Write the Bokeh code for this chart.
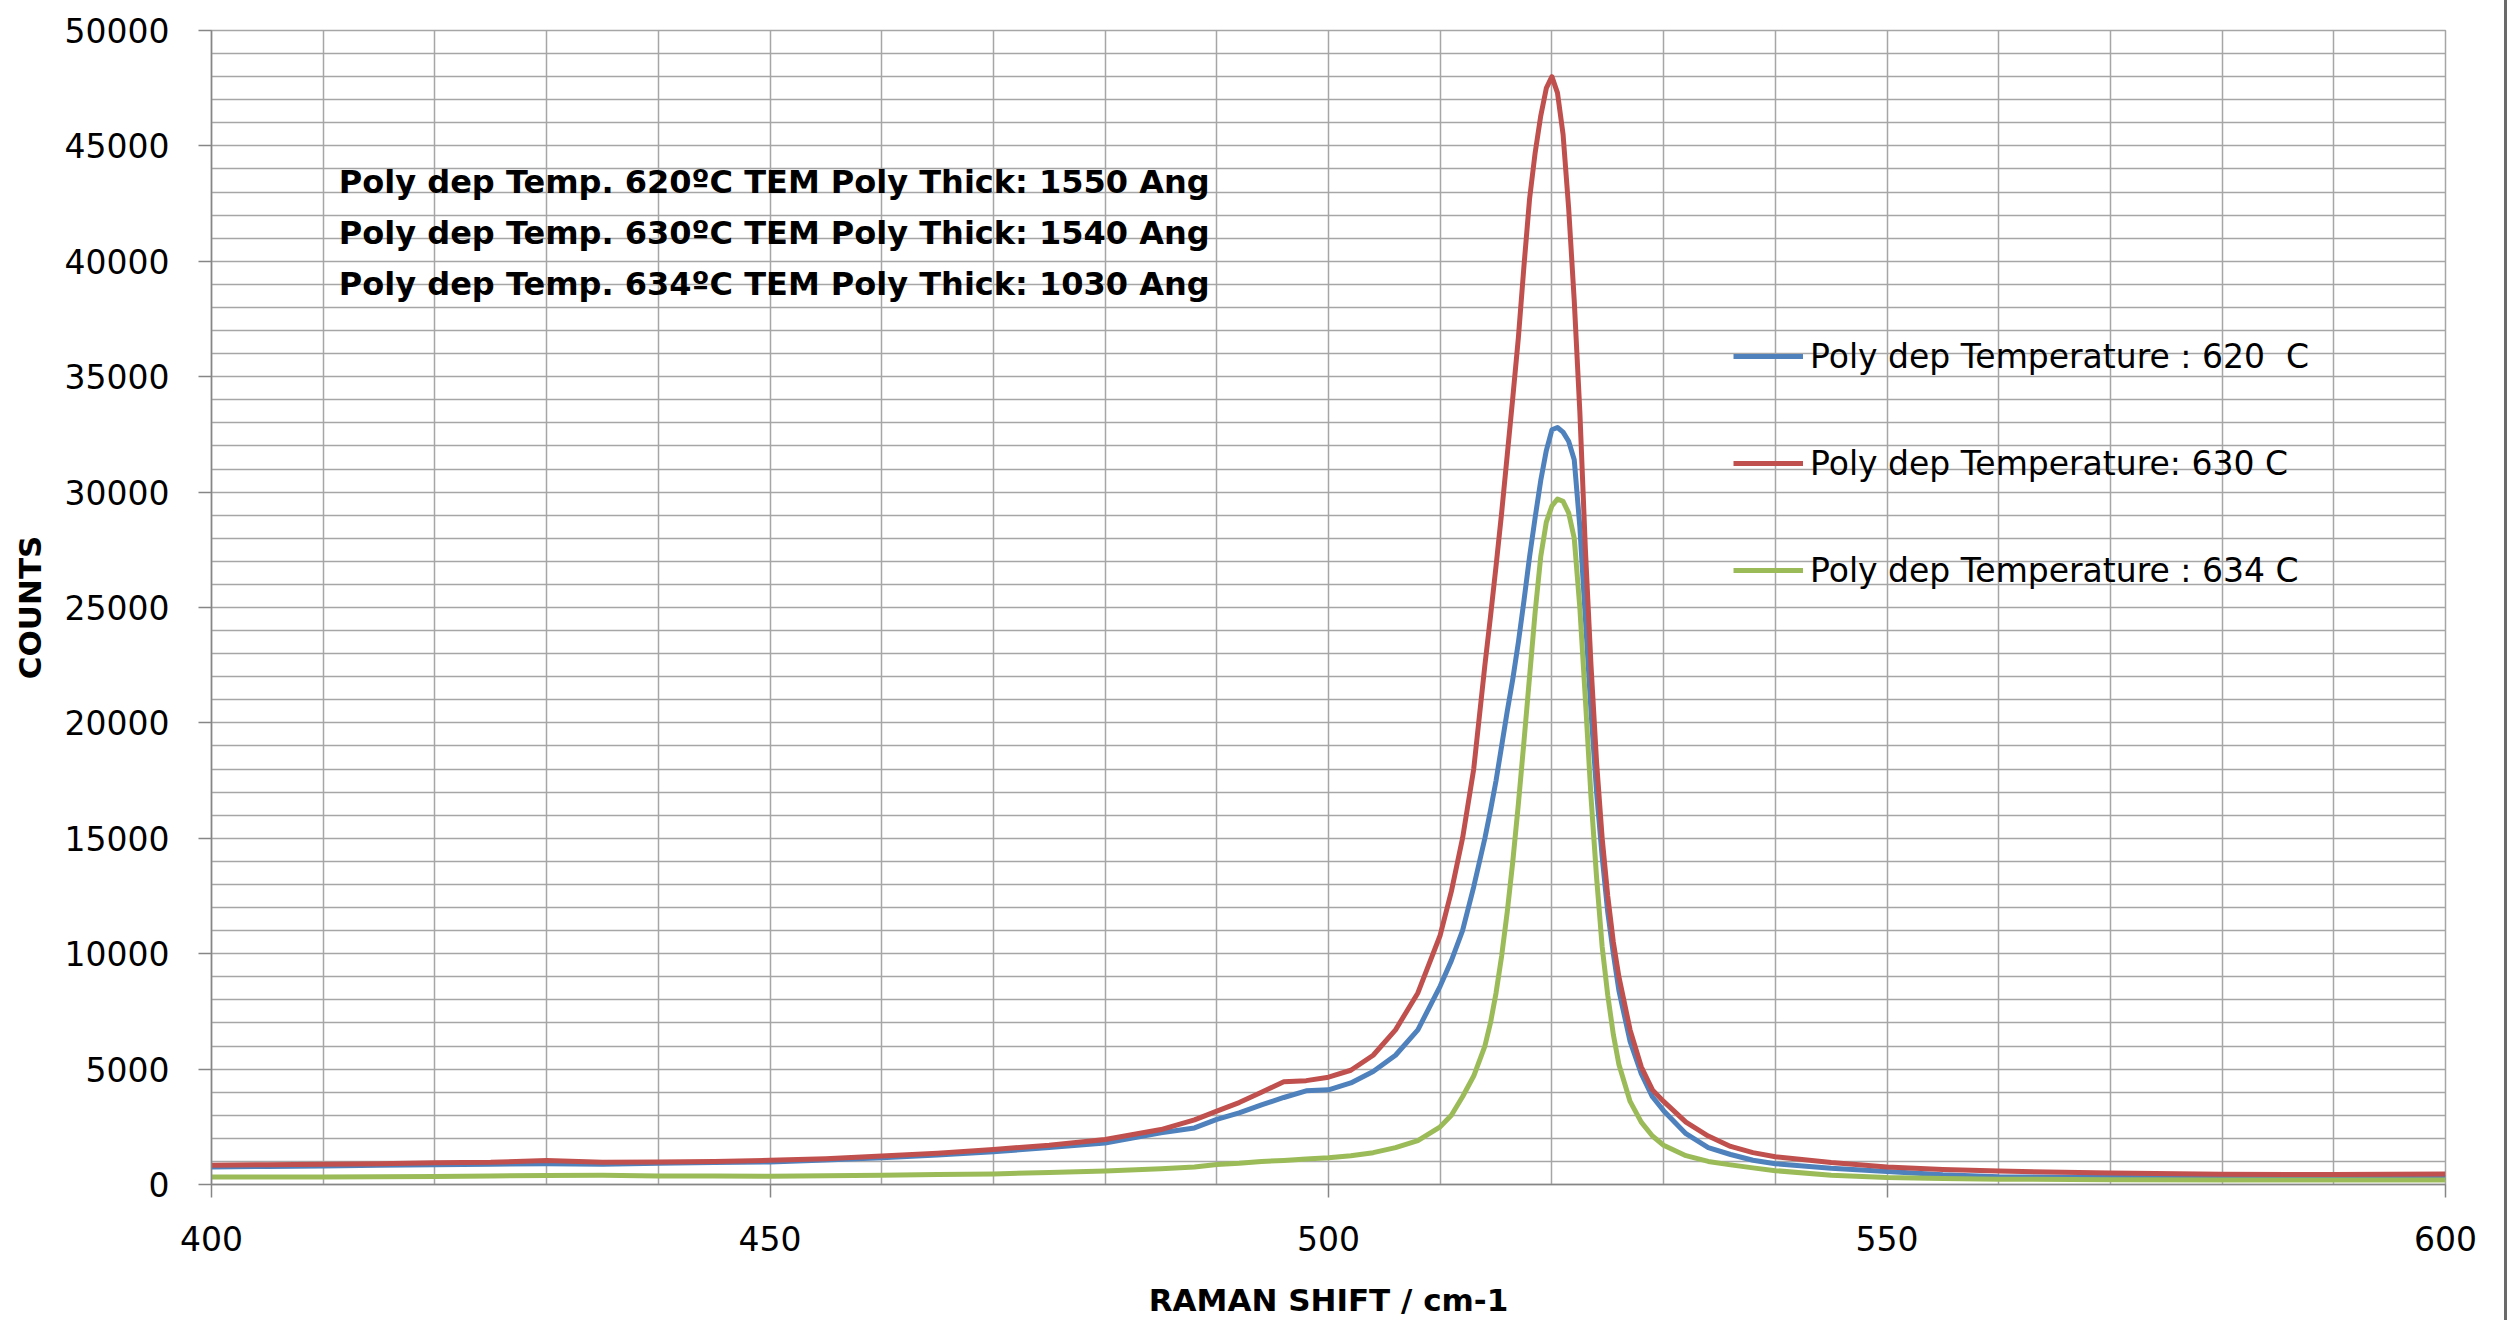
from bokeh.plotting import figure
from bokeh.models import (SingleIntervalTicker, Legend, LegendItem, Label, Range1d,
                          NumeralTickFormatter)
from bokeh.embed import file_html
from bokeh.resources import INLINE

# ---- data ----
raman_shift = ([400, 405, 410, 415, 420, 425, 430, 435, 440, 445, 450, 455, 460, 465, 470,
                475, 480, 485, 488, 490, 492, 494, 496, 498, 500, 502, 504, 506, 508, 510]
               + [511, 512, 513]
               + [514, 514.5, 515, 515.5, 516, 516.5, 517, 517.5, 518, 518.5, 519, 519.5, 520,
                  520.5, 521, 521.5, 522, 522.5, 523, 523.5, 524, 524.5, 525, 525.5, 526]
               + [527, 528, 529, 530, 532, 534, 536, 538, 540, 545, 550, 555, 560, 570, 580, 590, 600])

counts_620 = ([760, 780, 800, 830, 860, 880, 900, 880, 920, 950, 980, 1060, 1160, 1280, 1420,
               1600, 1800, 2240, 2450, 2820, 3100, 3450, 3770, 4060, 4100, 4400, 4900, 5600, 6700, 8600]
              + [9700, 11000, 12900]
              + [15000, 16200, 17500, 19000, 20500, 21900, 23500, 25300, 27200, 28900, 30500, 31800, 32700,
                 32800, 32600, 32200, 31400, 28500, 24500, 20500, 17000, 14200, 11800, 10000, 8400]
              + [6200, 4800, 3800, 3200, 2200, 1600, 1300, 1050, 900, 700, 560, 420, 340, 300, 290, 290, 300])

counts_630 = ([830, 860, 880, 900, 940, 960, 1040, 960, 970, 1000, 1050, 1120, 1230, 1350, 1520,
               1700, 1950, 2380, 2800, 3180, 3550, 4000, 4450, 4500, 4650, 4950, 5600, 6700, 8300, 10800]
              + [12700, 15000, 18000]
              + [22500, 24600, 26800, 29100, 31600, 34100, 36700, 39800, 42700, 44700, 46300, 47500, 48000,
                 47300, 45500, 42300, 38300, 33500, 27500, 22500, 18300, 15000, 12500, 10500, 9000]
              + [6700, 5100, 4100, 3600, 2700, 2100, 1650, 1380, 1200, 950, 760, 650, 580, 500, 440, 430, 460])

counts_634 = ([320, 330, 330, 340, 350, 370, 390, 400, 370, 370, 360, 380, 400, 430, 460,
               520, 580, 680, 760, 870, 920, 1000, 1040, 1100, 1160, 1250, 1380, 1600, 1900, 2500]
              + [3000, 3800, 4700]
              + [6000, 7000, 8300, 9900, 11800, 14000, 16500, 19200, 22000, 24800, 27200, 28700, 29400,
                 29700, 29600, 29100, 28000, 25000, 21000, 16800, 13300, 10300, 8200, 6500, 5200]
              + [3600, 2700, 2100, 1700, 1250, 1000, 850, 720, 600, 400, 300, 260, 230, 210, 200, 200, 200])

series_labels = ["Poly dep Temperature : 620  C",
                 "Poly dep Temperature: 630 C",
                 "Poly dep Temperature : 634 C"]

annotation_lines = ["Poly dep Temp. 620\u00baC  TEM Poly Thick: 1550 Ang",
                    "Poly dep Temp. 630\u00baC  TEM Poly Thick: 1540 Ang",
                    "Poly dep Temp. 634\u00baC  TEM Poly Thick: 1030 Ang"]

x_title = "RAMAN SHIFT / cm-1"
y_title = "COUNTS"

FONT = "DejaVu Sans"
GRID = "#a6a6a6"
AXIS = "#868686"

p = figure(frame_width=2234, frame_height=1154,
           x_range=Range1d(400, 600), y_range=Range1d(0, 50000),
           output_backend="svg", toolbar_location=None,
           min_border_left=211, min_border_right=59, min_border_top=30, min_border_bottom=122)
p.styles = {"border-right": "3px solid #6a6a6a"}

p.background_fill_color = "white"
p.border_fill_color = "white"
p.outline_line_color = GRID
p.outline_line_width = 1.5

p.xaxis.ticker = SingleIntervalTicker(interval=50, num_minor_ticks=0)
p.yaxis.ticker = SingleIntervalTicker(interval=5000, num_minor_ticks=0)
p.xgrid.ticker = SingleIntervalTicker(interval=10)
p.ygrid.ticker = SingleIntervalTicker(interval=1000)
p.yaxis.formatter = NumeralTickFormatter(format="0")

for g in (p.xgrid, p.ygrid):
    g.grid_line_color = GRID
    g.grid_line_width = 1.5

for ax in (p.xaxis, p.yaxis):
    ax.axis_line_color = AXIS
    ax.axis_line_width = 1.5
    ax.major_tick_line_color = AXIS
    ax.major_tick_line_width = 1.5
    ax.major_tick_out = 13
    ax.major_tick_in = 0
    ax.minor_tick_line_color = None
    ax.major_label_text_font = FONT
    ax.major_label_text_font_size = "33px"
    ax.major_label_text_color = "black"
    ax.axis_label_text_font = FONT
    ax.axis_label_text_font_style = "bold"
    ax.axis_label_text_font_size = "31px"
    ax.axis_label_text_color = "black"

p.xaxis.axis_label = x_title
p.yaxis.axis_label = y_title
p.xaxis.major_label_standoff = 28
p.yaxis.major_label_standoff = 29
p.xaxis.axis_label_standoff = 28
p.yaxis.axis_label_standoff = 14

colors = ["#4F81BD", "#C0504D", "#9BBB59"]
r_blue = p.line(raman_shift, counts_620, line_color=colors[0], line_width=5, line_join="round")
r_red = p.line(raman_shift, counts_630, line_color=colors[1], line_width=5, line_join="round")
r_green = p.line(raman_shift, counts_634, line_color=colors[2], line_width=5, line_join="round")

legend = Legend(items=[LegendItem(label=series_labels[0], renderers=[r_blue]),
                       LegendItem(label=series_labels[1], renderers=[r_red]),
                       LegendItem(label=series_labels[2], renderers=[r_green])],
                location=(1522, 594), orientation="vertical",
                glyph_width=70, glyph_height=40, label_height=40, spacing=67,
                label_standoff=7, padding=0, margin=0,
                border_line_color=None, background_fill_alpha=0,
                label_text_font=FONT, label_text_font_size="33px",
                label_text_color="black", label_text_baseline="middle")
p.add_layout(legend)

ann_y = [43450, 41240, 39030]
for txt, yy in zip(annotation_lines, ann_y):
    p.add_layout(Label(x=411.4, y=yy, text=txt, text_font=FONT, text_font_style="bold",
                       text_font_size="32px", text_color="black", text_baseline="alphabetic",
                       text_align="left"))

open("out.html", "w").write(file_html(p, INLINE))
